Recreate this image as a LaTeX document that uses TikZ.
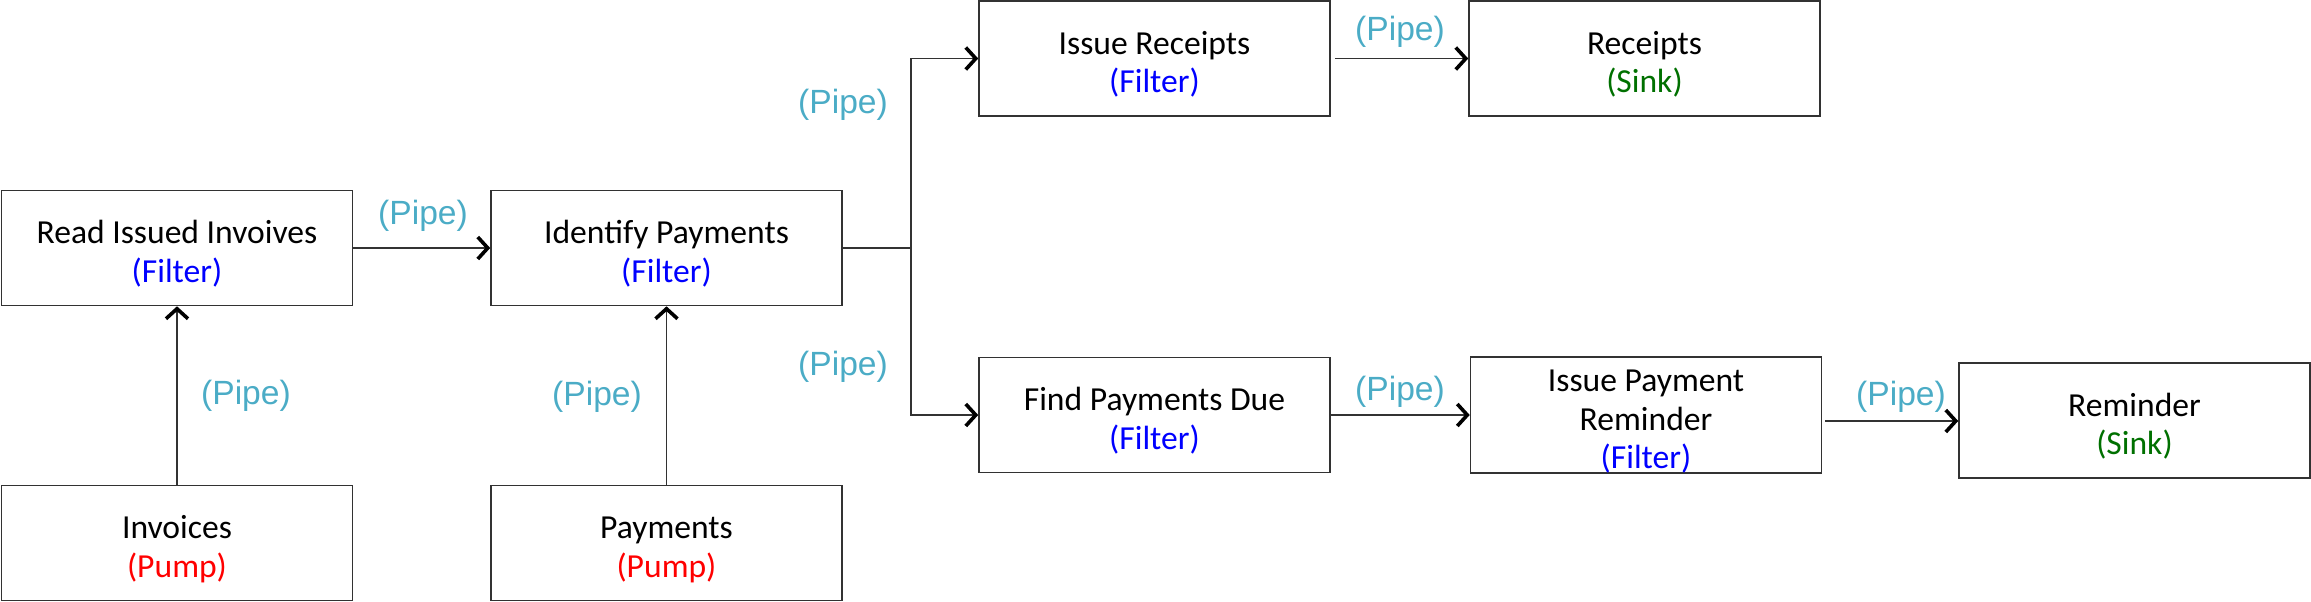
\documentclass[tikz,border=0pt]{standalone}
\usepackage{fontspec}
\setmainfont{Carlito}
\newfontfamily\pipefont{Liberation Sans}
\usetikzlibrary{arrows.meta}
\definecolor{pipec}{RGB}{75,172,198}
\definecolor{filterc}{RGB}{0,0,255}
\definecolor{pumpc}{RGB}{255,0,0}
\definecolor{sinkc}{RGB}{0,112,0}
\definecolor{edgec}{RGB}{50,50,50}
\newcommand\topstrut{\rule{0pt}{17.5pt}}
\begin{document}
\begin{tikzpicture}[x=0.5pt,y=-0.5pt,
  box/.style={draw=edgec,line width=0.8pt,minimum width=175.5pt,minimum height=57.5pt,inner sep=0pt,
    align=center,font=\fontsize{16.8}{19.2}\selectfont},
  conn/.style={draw=edgec,line width=0.7pt,-{Straight Barb[length=5pt,width=11pt,line width=1.8pt,color=black]}},
  line/.style={draw=edgec,line width=0.7pt},
  pipe/.style={text=pipec,font=\pipefont\fontsize{16.8}{19}\selectfont,inner sep=0pt}]
\useasboundingbox (0,0) rectangle (2311,601);
\node[box] (read) at (177,248) {\topstrut Read Issued Invoives\\\textcolor{filterc}{(Filter)}};
\node[box] (ident) at (666.5,248) {\topstrut Identify Payments\\\textcolor{filterc}{(Filter)}};
\node[box] (inv) at (177,543) {\topstrut Invoices\\\textcolor{pumpc}{(Pump)}};
\node[box] (pay) at (666.5,543) {\topstrut Payments\\\textcolor{pumpc}{(Pump)}};
\node[box] (irec) at (1154.5,58.5) {\topstrut Issue Receipts\\\textcolor{filterc}{(Filter)}};
\node[box] (rec) at (1644.5,58.5) {\topstrut Receipts\\\textcolor{sinkc}{(Sink)}};
\node[box] (find) at (1154.5,415) {\topstrut Find Payments Due\\\textcolor{filterc}{(Filter)}};
\node[box] (ipr) at (1646,415) {\topstrut Issue Payment\\Reminder\\\textcolor{filterc}{(Filter)}};
\node[box] (rem) at (2134.5,420.5) {\topstrut Reminder\\\textcolor{sinkc}{(Sink)}};
\coordinate (split) at (911,248);
\draw[conn] (read) -- (ident);
\draw[conn] (inv) -- (read);
\draw[conn] (pay) -- (ident);
\draw[line] (ident.east) -- (split);
\draw[conn] (split) |- (irec.west);
\draw[conn] (split) |- (find.west);
\draw[conn] ([xshift=2pt]irec.east) -- (rec.west);
\draw[conn] (find.east) -- (ipr.west);
\coordinate (iprout) at ([xshift=1.5pt,yshift=-3pt]ipr.east);
\draw[conn] (iprout) -- (rem.west |- iprout);
\node[pipe] (p1) at (423,216) {(Pipe)};
\node[pipe] (p2) at (246,396) {(Pipe)};
\node[pipe] (p3) at (597,397) {(Pipe)};
\node[pipe] (p4) at (843,105) {(Pipe)};
\node[pipe] (p5) at (843,367) {(Pipe)};
\node[pipe] (p6) at (1400,32) {(Pipe)};
\node[pipe] (p7) at (1400,392) {(Pipe)};
\node[pipe] (p8) at (1901,397) {(Pipe)};
\end{tikzpicture}
\end{document}
